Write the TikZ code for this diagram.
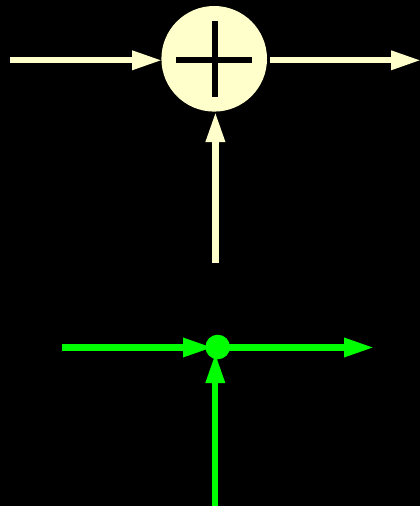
\documentclass[tikz,border=0pt]{standalone}
\usetikzlibrary{arrows.meta,calc}
\definecolor{cream}{RGB}{255,255,204}
\definecolor{lime}{RGB}{0,255,0}
\tikzset{
  flow/.style={line width=6.2pt,-{Triangle[length=30pt,width=18pt]}},
  sumnode/.style={circle,fill=cream,minimum size=105.6pt,inner sep=0pt,outer sep=0pt},
  dotnode/.style={circle,fill=lime,minimum size=24.6pt,inner sep=0pt,outer sep=0pt},
  plusbar/.style={line width=6pt,black}
}
\begin{document}
\begin{tikzpicture}[x=1pt,y=-1pt]
\fill[black] (0,0) rectangle (420,506);
\useasboundingbox (0,0) rectangle (420,506);
\node[sumnode] (sum) at (214.2,58.8) {};
\draw[plusbar] (176,60) -- (252.3,60);
\draw[plusbar] (215,21) -- (215,97);
\coordinate (a1) at (10,60.3);
\coordinate (a2) at (421,60.3);
\coordinate (a3) at (215.4,263);
\coordinate (a2s) at (270,60.3);
\draw[flow,cream] (a1) -- ([xshift=.7pt]a1 -| sum.west);
\draw[flow,cream] (a2s) -- (a2);
\draw[flow,cream] (a3) -- (215.4,112);
\node[dotnode] (dot) at (217.7,347) {};
\coordinate (b1) at (62,347.5);
\coordinate (b2) at (374,347.5);
\coordinate (b3) at (215.3,505.5);
\draw[flow,lime,shorten >=4.7pt] (b1) -- (b1 -| dot.center);
\draw[flow,lime] (b1 -| dot.center) -- (b2);
\draw[flow,lime,shorten >=6pt] (b3) -- (b3 |- dot.center);
\end{tikzpicture}
\end{document}
